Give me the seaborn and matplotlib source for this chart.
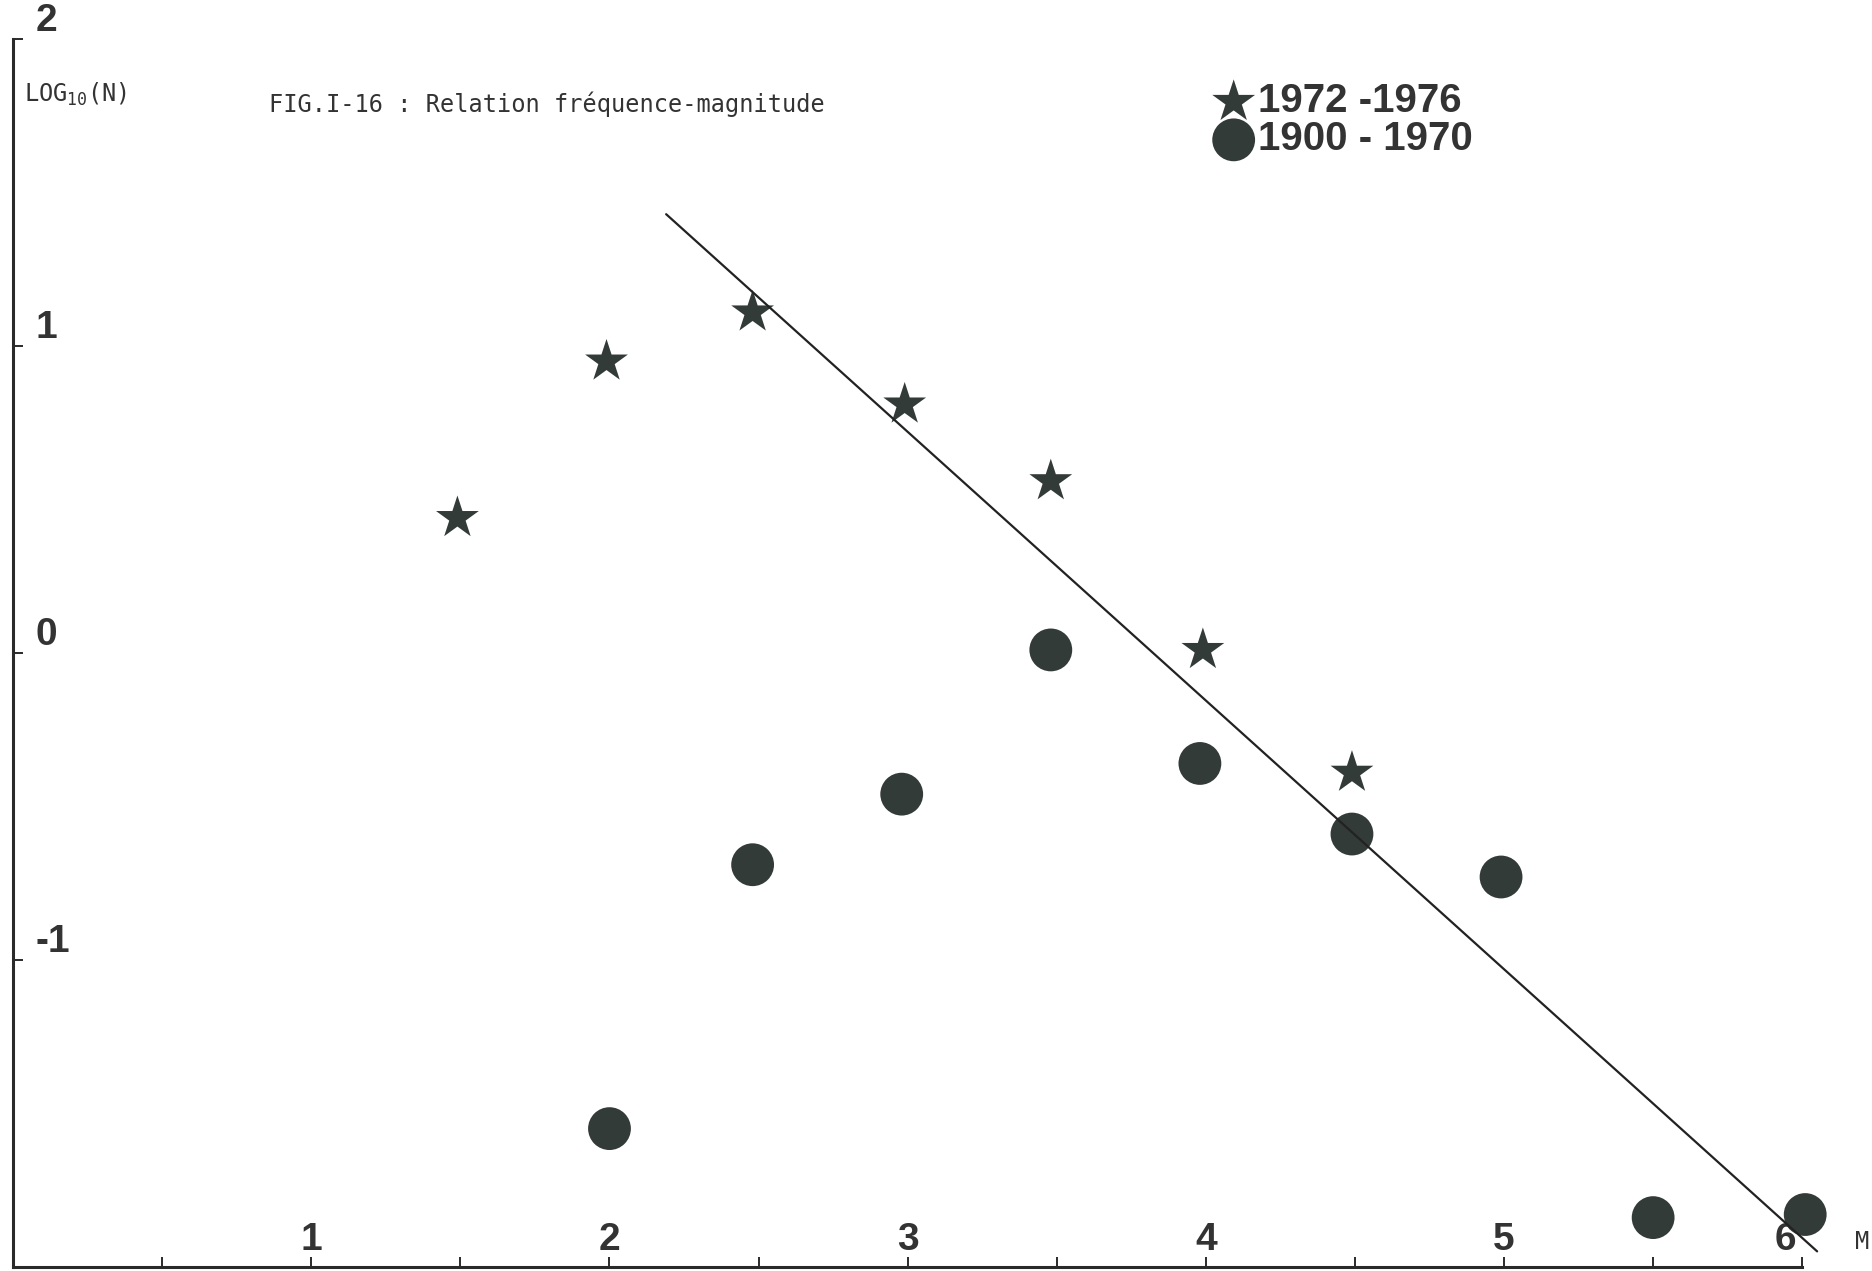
import numpy as np
import pandas as pd
import matplotlib
matplotlib.use('Agg')
import matplotlib.pyplot as plt
import seaborn as sns

sns.set_style('white')
plt.rcParams['font.family'] = ['Liberation Sans', 'DejaVu Sans']
plt.rcParams['mathtext.default'] = 'regular'

# data
mag_7276 = [1.49, 1.99, 2.48, 2.99, 3.48, 3.99, 4.49]
logn_7276 = [0.44, 0.95, 1.11, 0.81, 0.56, 0.01, -0.39]

mag_0070 = [2.0, 2.48, 2.98, 3.48, 3.98, 4.49, 4.99, 5.5, 6.01]
logn_0070 = [-1.55, -0.69, -0.46, 0.01, -0.36, -0.59, -0.73, -1.84, -1.83]

# fitted line (end points)
fit_m = [2.19, 6.05]
fit_logn = [1.43, -1.95]

xtick_pos = [0.5, 1, 1.5, 2, 2.5, 3, 3.5, 4, 4.5, 5, 5.5, 6]
xtick_lab = ['', '1', '', '2', '', '3', '', '4', '', '5', '', '6   ']
ytick_pos = [2, 1, 0, -1]
ytick_lab = ['2', '1', '0', '-1']

df_a = pd.DataFrame({'M': mag_7276, 'logN': logn_7276})
df_b = pd.DataFrame({'M': mag_0070, 'logN': logn_0070})

col = '#323b37'
txt_col = '#333333'
mono = 'DejaVu Sans Mono'

fig = plt.figure(figsize=(18.72, 12.71), dpi=100)
ax = fig.add_axes([0, 0, 1, 1])

sns.lineplot(x=fit_m, y=fit_logn, ax=ax, color='#222222', lw=1.6, zorder=2.3)
sns.scatterplot(data=df_a, x='M', y='logN', ax=ax, marker='*', s=1050,
                color=col, edgecolor='none', label='1972 -1976', zorder=2.2)
sns.scatterplot(data=df_b, x='M', y='logN', ax=ax, marker='o', s=950,
                color=col, edgecolor='none', label='1900 - 1970', zorder=2.2)

ax.set_xlim(-0.044, 6.234)
ax.set_ylim(-2.014, 2.128)

for s in ['top', 'right']:
    ax.spines[s].set_visible(False)
ax.spines['left'].set_position(('data', 0))
ax.spines['bottom'].set_position(('data', -2))
ax.spines['left'].set_bounds(-2, 2)
ax.spines['bottom'].set_bounds(0, 6)
for s in ['left', 'bottom']:
    ax.spines[s].set_linewidth(2.2)
    ax.spines[s].set_color('#2a2a2a')

ax.set_xticks(xtick_pos)
ax.set_xticklabels(xtick_lab)
ax.set_yticks(ytick_pos)
ax.set_yticklabels(ytick_lab)
ax.tick_params(axis='x', bottom=True, direction='in', length=7, width=1.4,
               pad=-32, labelsize=28, color='#2a2a2a')
ax.tick_params(axis='y', left=True, direction='in', length=7, width=1.4,
               pad=-16, labelsize=28, color='#2a2a2a')
for t in ax.get_xticklabels():
    t.set_fontweight('bold')
    t.set_color(txt_col)
for t in ax.get_yticklabels():
    t.set_fontweight('bold')
    t.set_ha('left')
    t.set_va('bottom')
    t.set_color(txt_col)
ax.set_xlabel('')
ax.set_ylabel('')
ax.grid(False)

leg = ax.legend(loc='upper left', bbox_to_anchor=(0.6375, 0.951),
                bbox_transform=fig.transFigure, frameon=False,
                handlelength=1.0, handletextpad=0.1, borderpad=0,
                labelspacing=0.0, prop={'weight': 'bold', 'size': 29})
for t in leg.get_texts():
    t.set_color(txt_col)

fig.text(0.1437, 0.918, 'FIG.I-16 : Relation fréquence-magnitude',
         family=mono, fontsize=17, color=txt_col, va='center', ha='left')
fig.text(0.013, 0.926, 'LOG$_{10}$(N)', family=mono, fontsize=17,
         color=txt_col, va='center', ha='left')
fig.text(0.9947, 0.0228, 'M', family=mono, fontsize=17, color=txt_col,
         va='center', ha='center')

fig.savefig('out.png', dpi=100)
